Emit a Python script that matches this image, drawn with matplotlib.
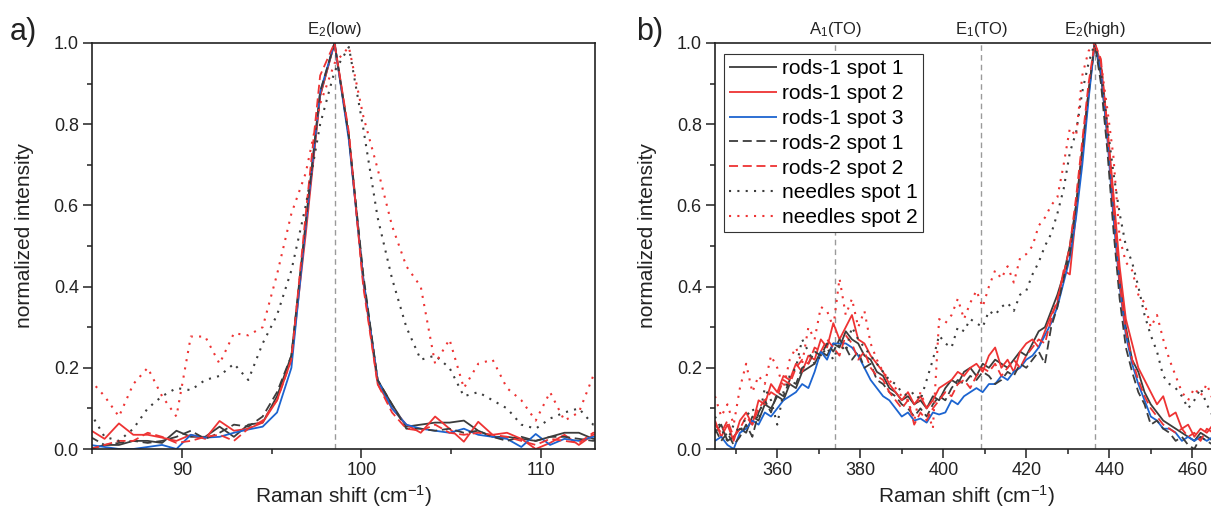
import numpy as np
import matplotlib
matplotlib.use("Agg")
import matplotlib.pyplot as plt
from matplotlib.ticker import MultipleLocator

# ================================
# Dados
# ================================

# painel a) - E2(low), passo ~0.8 cm-1
shift_a = 84.9 + 0.8 * np.arange(37)

rods1_s1_a = [0.0, 0.01, 0.01, 0.02, 0.02, 0.015, 0.045, 0.03, 0.03, 0.055, 0.03, 0.06, 0.065,
              0.13, 0.23, 0.55, 0.87, 1.0, 0.77, 0.42, 0.17, 0.11, 0.055, 0.06, 0.065, 0.065, 0.07,
              0.045, 0.03, 0.03, 0.025, 0.02, 0.03, 0.04, 0.04, 0.025, 0.025]
rods1_s2_a = [0.047, 0.025, 0.063, 0.035, 0.035, 0.028, 0.02, 0.035, 0.025, 0.069, 0.045, 0.05, 0.065,
              0.12, 0.22, 0.53, 0.87, 1.0, 0.77, 0.41, 0.16, 0.1, 0.06, 0.04, 0.08, 0.05, 0.018,
              0.067, 0.035, 0.04, 0.025, 0.0, 0.015, 0.035, 0.01, 0.035, 0.04]
rods1_s3_a = [0.01, 0.005, 0.0, 0.0, 0.005, 0.01, 0.0, 0.035, 0.028, 0.03, 0.04, 0.048, 0.055,
              0.09, 0.2, 0.55, 0.88, 1.0, 0.76, 0.42, 0.17, 0.1, 0.06, 0.05, 0.045, 0.04, 0.05,
              0.035, 0.03, 0.025, 0.005, 0.037, 0.01, 0.025, 0.02, 0.03, 0.03]
rods2_s1_a = [0.03, 0.01, 0.015, 0.02, 0.015, 0.02, 0.03, 0.045, 0.025, 0.04, 0.06, 0.055, 0.08,
              0.14, 0.23, 0.56, 0.88, 1.0, 0.77, 0.43, 0.17, 0.11, 0.05, 0.05, 0.045, 0.05, 0.04,
              0.045, 0.03, 0.02, 0.03, 0.02, 0.03, 0.03, 0.025, 0.02, 0.03]
rods2_s2_a = [0.0, 0.01, 0.02, 0.02, 0.04, 0.03, 0.015, 0.02, 0.03, 0.035, 0.02, 0.05, 0.07,
              0.12, 0.22, 0.58, 0.92, 1.0, 0.78, 0.4, 0.16, 0.09, 0.05, 0.045, 0.06, 0.04, 0.035,
              0.04, 0.035, 0.03, 0.02, 0.01, 0.025, 0.02, 0.015, 0.04, 0.04]
needles_s1_a = [0.09, 0.03, 0.02, 0.05, 0.1, 0.13, 0.15, 0.145, 0.17, 0.18, 0.21, 0.17, 0.26,
                0.33, 0.44, 0.6, 0.8, 0.93, 0.99, 0.79, 0.57, 0.42, 0.3, 0.22, 0.23, 0.2, 0.13,
                0.14, 0.12, 0.1, 0.06, 0.05, 0.075, 0.09, 0.1, 0.06, 0.05]
needles_s2_a = [0.17, 0.13, 0.08, 0.16, 0.2, 0.13, 0.08, 0.277, 0.277, 0.21, 0.285, 0.28, 0.3,
                0.43, 0.58, 0.68, 0.85, 0.95, 0.99, 0.82, 0.69, 0.55, 0.45, 0.4, 0.21, 0.27, 0.15,
                0.21, 0.22, 0.15, 0.12, 0.07, 0.14, 0.07, 0.09, 0.18, 0.15]

# painel b) - A1(TO), E1(TO), E2(high), passo 1.5 cm-1
shift_b = 345 + 1.5 * np.arange(81)

rods1_s1_b = [0.04, 0.06, 0.02, 0.03, 0.05, 0.04, 0.08, 0.07, 0.11, 0.10,
              0.13, 0.12, 0.16, 0.15, 0.19, 0.2, 0.21, 0.24, 0.23, 0.26,
              0.25, 0.29, 0.27, 0.26, 0.23, 0.22, 0.19, 0.18, 0.15, 0.14,
              0.12, 0.13, 0.11, 0.12, 0.1, 0.13, 0.12, 0.15, 0.17, 0.16,
              0.19, 0.2, 0.18, 0.21, 0.2, 0.22, 0.21, 0.2, 0.22, 0.24,
              0.23, 0.26, 0.29, 0.3, 0.34, 0.38, 0.43, 0.5, 0.6, 0.73,
              0.87, 1.0, 0.92, 0.78, 0.6, 0.42, 0.3, 0.22, 0.19, 0.14,
              0.11, 0.09, 0.07, 0.06, 0.05, 0.04, 0.03, 0.02, 0.04, 0.03, 0.02]
rods1_s2_b = [0.07, 0.03, 0.06, 0.02, 0.07, 0.09, 0.06, 0.12, 0.11, 0.16,
              0.14, 0.18, 0.17, 0.21, 0.19, 0.23, 0.22, 0.27, 0.25, 0.31,
              0.27, 0.3, 0.33, 0.27, 0.26, 0.23, 0.21, 0.19, 0.16, 0.14,
              0.12, 0.14, 0.11, 0.13, 0.1, 0.12, 0.15, 0.16, 0.17, 0.19,
              0.18, 0.2, 0.21, 0.19, 0.23, 0.25, 0.2, 0.22, 0.19, 0.24,
              0.26, 0.27, 0.25, 0.29, 0.33, 0.36, 0.44, 0.43, 0.58, 0.74,
              0.88, 1.0, 0.95, 0.8, 0.63, 0.45, 0.32, 0.26, 0.2, 0.17,
              0.14, 0.11, 0.13, 0.08, 0.09, 0.05, 0.06, 0.03, 0.05, 0.04, 0.06]
rods1_s3_b = [0.02, 0.03, 0.01, 0.0, 0.04, 0.05, 0.07, 0.06, 0.09, 0.08,
              0.1, 0.12, 0.13, 0.14, 0.16, 0.15, 0.19, 0.24, 0.22, 0.26,
              0.26, 0.26, 0.25, 0.23, 0.2, 0.17, 0.15, 0.13, 0.12, 0.1,
              0.08, 0.09, 0.07, 0.075, 0.065, 0.09, 0.085, 0.09, 0.12, 0.11,
              0.13, 0.14, 0.15, 0.14, 0.16, 0.16, 0.18, 0.17, 0.19, 0.2,
              0.22, 0.23, 0.25, 0.28, 0.31, 0.35, 0.41, 0.47, 0.57, 0.7,
              0.86, 1.0, 0.93, 0.77, 0.57, 0.4, 0.28, 0.21, 0.16, 0.12,
              0.08, 0.07, 0.05, 0.05, 0.04, 0.02, 0.03, 0.02, 0.03, 0.02, 0.03]
rods2_s1_b = [0.05, 0.02, 0.04, 0.01, 0.03, 0.06, 0.03, 0.09, 0.12, 0.09,
              0.14, 0.13, 0.17, 0.16, 0.2, 0.21, 0.24, 0.23, 0.26, 0.24,
              0.27, 0.25, 0.22, 0.24, 0.2, 0.21, 0.17, 0.16, 0.14, 0.13,
              0.11, 0.1, 0.08, 0.1, 0.08, 0.11, 0.13, 0.12, 0.15, 0.17,
              0.16, 0.18, 0.17, 0.19, 0.18, 0.16, 0.17, 0.19, 0.18, 0.21,
              0.2, 0.22, 0.24, 0.21, 0.3, 0.35, 0.42, 0.48, 0.6, 0.74,
              0.88, 1.0, 0.9, 0.74, 0.54, 0.37, 0.25, 0.19, 0.14, 0.11,
              0.06, 0.07, 0.05, 0.04, 0.02, 0.03, 0.01, 0.0, 0.03, 0.02, 0.01]
rods2_s2_b = [0.06, 0.04, 0.07, 0.03, 0.05, 0.08, 0.06, 0.1, 0.12, 0.14,
              0.13, 0.17, 0.16, 0.2, 0.22, 0.21, 0.25, 0.24, 0.27, 0.25,
              0.23, 0.28, 0.26, 0.22, 0.24, 0.2, 0.18, 0.17, 0.14, 0.12,
              0.1, 0.12, 0.06, 0.09, 0.07, 0.1, 0.12, 0.14, 0.13, 0.16,
              0.17, 0.15, 0.18, 0.2, 0.19, 0.21, 0.18, 0.2, 0.22, 0.2,
              0.23, 0.25, 0.27, 0.26, 0.32, 0.37, 0.43, 0.5, 0.62, 0.76,
              0.9, 1.0, 0.96, 0.79, 0.6, 0.41, 0.29, 0.22, 0.17, 0.13,
              0.1, 0.08, 0.06, 0.05, 0.04, 0.05, 0.03, 0.04, 0.02, 0.05, 0.04]
needles_s1_b = [0.08, 0.05, 0.02, 0.06, 0.04, 0.08, 0.1, 0.07, 0.15, 0.12,
                0.06, 0.14, 0.18, 0.2, 0.27, 0.24, 0.21, 0.23, 0.25, 0.22,
                0.26, 0.24, 0.3, 0.27, 0.25, 0.23, 0.21, 0.19, 0.17, 0.16,
                0.14, 0.13, 0.14, 0.12, 0.17, 0.22, 0.28, 0.26, 0.25, 0.3,
                0.29, 0.32, 0.31, 0.3, 0.34, 0.33, 0.35, 0.36, 0.34, 0.38,
                0.39, 0.43, 0.46, 0.5, 0.53, 0.58, 0.64, 0.73, 0.78, 0.88,
                0.95, 1.0, 0.93, 0.8, 0.68, 0.58, 0.5, 0.46, 0.4, 0.33,
                0.28, 0.24, 0.18, 0.16, 0.15, 0.13, 0.1, 0.12, 0.15, 0.11, 0.08]
needles_s2_b = [0.13, 0.08, 0.11, 0.06, 0.15, 0.21, 0.14, 0.18, 0.16, 0.23,
                0.2, 0.15, 0.22, 0.25, 0.21, 0.3, 0.27, 0.35, 0.34, 0.3,
                0.42, 0.33, 0.37, 0.3, 0.34, 0.26, 0.22, 0.19, 0.17, 0.15,
                0.13, 0.12, 0.07, 0.14, 0.1, 0.05, 0.32, 0.31, 0.33, 0.37,
                0.32, 0.36, 0.39, 0.35, 0.4, 0.44, 0.42, 0.45, 0.41, 0.47,
                0.48, 0.5, 0.55, 0.57, 0.6, 0.62, 0.7, 0.79, 0.77, 0.92,
                0.98, 1.0, 0.95, 0.84, 0.72, 0.52, 0.46, 0.44, 0.38, 0.36,
                0.3, 0.33, 0.27, 0.22, 0.18, 0.14, 0.12, 0.15, 0.13, 0.16, 0.12]

labels = ["rods-1 spot 1", "rods-1 spot 2", "rods-1 spot 3",
          "rods-2 spot 1", "rods-2 spot 2", "needles spot 1", "needles spot 2"]

# modos fonônicos (posição, rótulo)
modes_a = [(98.5, "E$_2$(low)")]
modes_b = [(374.0, "A$_1$(TO)"), (409.2, "E$_1$(TO)"), (436.5, "E$_2$(high)")]

# ================================
# Estilo
# ================================

plt.rcParams['font.family'] = ['Liberation Sans', 'DejaVu Sans']
plt.rcParams['mathtext.fontset'] = 'custom'
plt.rcParams['mathtext.rm'] = 'Liberation Sans'
plt.rcParams['mathtext.it'] = 'Liberation Sans:italic'

DARK = '#3c3c3c'
RED = '#ee3333'
BLUE = '#1c64d0'
SOLID = (0, ())
DASH = (0, (5, 2.6))
DOT = (0, (1, 3))

styles = [(DARK, SOLID), (RED, SOLID), (BLUE, SOLID),
          (DARK, DASH), (RED, DASH), (DARK, DOT), (RED, DOT)]

data_a = [rods1_s1_a, rods1_s2_a, rods1_s3_a, rods2_s1_a, rods2_s2_a, needles_s1_a, needles_s2_a]
data_b = [rods1_s1_b, rods1_s2_b, rods1_s3_b, rods2_s1_b, rods2_s2_b, needles_s1_b, needles_s2_b]

fig = plt.figure(figsize=(12.11, 5.14), dpi=100)
W, H = 1211.0, 514.0
ax_a = fig.add_axes([92 / W, 65 / H, 503 / W, 406 / H])
ax_b = fig.add_axes([715 / W, 65 / H, 503 / W, 406 / H])


def style_axes(ax, xlim, xmajor, xminor):
    ax.set_xlim(*xlim)
    ax.set_ylim(0, 1.0)
    ax.xaxis.set_major_locator(MultipleLocator(xmajor))
    ax.xaxis.set_minor_locator(MultipleLocator(xminor))
    ax.yaxis.set_major_locator(MultipleLocator(0.2))
    ax.yaxis.set_minor_locator(MultipleLocator(0.1))
    ax.yaxis.set_major_formatter(matplotlib.ticker.FormatStrFormatter('%.1f'))
    ax.tick_params(which='both', direction='out', top=False, right=False,
                   width=1.1, labelsize=13, colors='#222222')
    ax.tick_params(which='major', length=6.5, pad=3)
    ax.tick_params(which='minor', length=3.5)
    for s in ax.spines.values():
        s.set_linewidth(1.2)
        s.set_color('#222222')
    ax.set_xlabel("Raman shift (cm$^{-1}$)", fontsize=15, color='#222222')
    ax.set_ylabel("normalized intensity", fontsize=15, color='#222222')
    ax.xaxis.set_label_coords(0.5, -0.085)
    ax.yaxis.set_label_coords(-0.116, 0.525)


def draw_modes(ax, modes):
    for pos, name in modes:
        ax.axvline(pos, color='#9a9a9a', lw=1.0, ls=(0, (4, 3)), zorder=1)
        ax.annotate(name, xy=(pos, 1.0), xycoords=('data', 'axes fraction'),
                    xytext=(0, 3), textcoords='offset points',
                    ha='center', va='bottom', fontsize=12, color='#222222')


# ================================
# Painel a)
# ================================

style_axes(ax_a, (85, 113), 10, 5)
draw_modes(ax_a, modes_a)
for y, (c, ls), lab in zip(data_a, styles, labels):
    lw = 1.5 if ls == DOT else 1.3
    ax_a.plot(shift_a, y, color=c, ls=ls, lw=lw, label=lab, zorder=2)

# ================================
# Painel b)
# ================================

style_axes(ax_b, (345, 466.2), 20, 10)
draw_modes(ax_b, modes_b)
for y, (c, ls), lab in zip(data_b, styles, labels):
    lw = 1.5 if ls == DOT else 1.3
    ax_b.plot(shift_b, y, color=c, ls=ls, lw=lw, label=lab, zorder=2)

leg = ax_b.legend(loc='upper left', bbox_to_anchor=(0.018, 0.973), borderaxespad=0,
                  fontsize=15, handlelength=2.3, handletextpad=0.25, labelspacing=0.28,
                  borderpad=0.25, fancybox=False, framealpha=1.0, edgecolor='#333333')
leg.get_frame().set_linewidth(0.8)

# rótulos dos painéis
fig.text(10 / W, 1 - 32 / H, "a)", fontsize=22, va='center', ha='left', color='#222222')
fig.text(636 / W, 1 - 32 / H, "b)", fontsize=22, va='center', ha='left', color='#222222')

fig.savefig("out.png", dpi=100)
